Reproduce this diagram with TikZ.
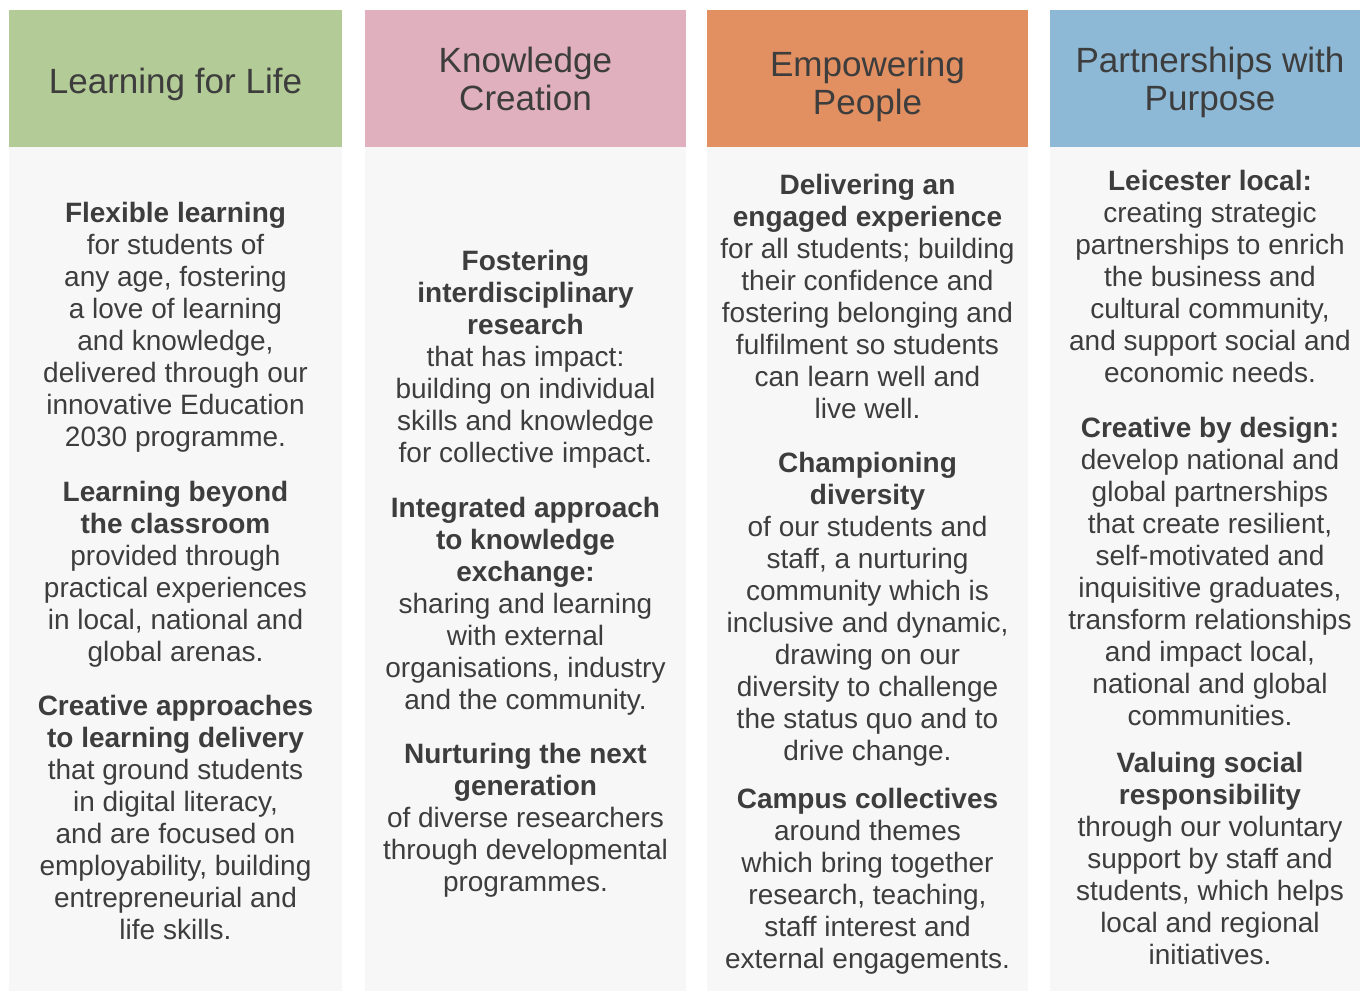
\documentclass[tikz,border=0pt]{standalone}
\usepackage{fontspec}
\setmainfont{Liberation Sans}
\definecolor{cgreen}{HTML}{B3CB96}
\definecolor{cpink}{HTML}{E0B0BE}
\definecolor{corange}{HTML}{E29062}
\definecolor{cblue}{HTML}{8DB9D6}
\definecolor{cbody}{HTML}{F7F7F7}
\definecolor{ctext}{HTML}{3D3D3D}
\tikzset{
  headtext/.style={text=ctext, align=center, anchor=north, inner sep=0pt,
    font=\fontsize{26.3pt}{28.5pt}\selectfont, execute at begin node=\strut},
  para/.style={text=ctext, align=center, anchor=north, inner sep=0pt,
    font=\fontsize{21pt}{24pt}\selectfont, execute at begin node=\strut},
}
\begin{document}
\begin{tikzpicture}[x=0.75pt,y=-0.75pt]
\useasboundingbox[fill=white] (0,0) rectangle (1360,991);
% column boxes
\fill[cgreen]  (9,10) rectangle (342,147);
\fill[cbody]   (9,147) rectangle (342,991);
\fill[cpink]   (365,10) rectangle (686,147);
\fill[cbody]   (365,147) rectangle (686,991);
\fill[corange] (707,10) rectangle (1028,147);
\fill[cbody]   (707,147) rectangle (1028,991);
\fill[cblue]   (1050,10) rectangle (1360,147);
\fill[cbody]   (1050,147) rectangle (1360,991);
% headers
\node[headtext] (h1) at (175.5,66.6) {Learning for Life};
\node[headtext] (h2) at (525.5,46.4) {Knowledge\\Creation};
\node[headtext] (h3) at (867.5,50.4) {Empowering\\People};
\node[headtext] (h4) at (1210,46.4) {Partnerships with\\Purpose};
% column 1
\node[para] (a1) at (175.5,201.6) {\textbf{Flexible learning}\\for students of\\any age, fostering\\a love of learning\\and knowledge,\\delivered through our\\innovative Education\\2030 programme.};
\node[para] (a2) at (175.5,480.6) {\textbf{Learning beyond}\\\textbf{the classroom}\\provided through\\practical experiences\\in local, national and\\global arenas.};
\node[para] (a3) at (175.5,694.6) {\textbf{Creative approaches}\\\textbf{to learning delivery}\\that ground students\\in digital literacy,\\and are focused on\\employability, building\\entrepreneurial and\\life skills.};
% column 2
\node[para] (b1) at (525.5,249.6) {\textbf{Fostering}\\\textbf{interdisciplinary}\\\textbf{research}\\that has impact:\\building on individual\\skills and knowledge\\for collective impact.};
\node[para] (b2) at (525.5,496.6) {\textbf{Integrated approach}\\\textbf{to knowledge}\\\textbf{exchange:}\\sharing and learning\\with external\\organisations, industry\\and the community.};
\node[para] (b3) at (525.5,742.6) {\textbf{Nurturing the next}\\\textbf{generation}\\of diverse researchers\\through developmental\\programmes.};
% column 3
\node[para] (c1) at (867.5,173.6) {\textbf{Delivering an}\\\textbf{engaged experience}\\for all students; building\\their confidence and\\fostering belonging and\\fulfilment so students\\can learn well and\\live well.};
\node[para] (c2) at (867.5,451.6) {\textbf{Championing}\\\textbf{diversity}\\of our students and\\staff, a nurturing\\community which is\\inclusive and dynamic,\\drawing on our\\diversity to challenge\\the status quo and to\\drive change.};
\node[para] (c3) at (867.5,787.6) {\textbf{Campus collectives}\\around themes\\which bring together\\research, teaching,\\staff interest and\\external engagements.};
% column 4
\node[para] (d1) at (1210,169.6) {\textbf{Leicester local:}\\creating strategic\\partnerships to enrich\\the business and\\cultural community,\\and support social and\\economic needs.};
\node[para] (d2) at (1210,416.6) {\textbf{Creative by design:}\\develop national and\\global partnerships\\that create resilient,\\self-motivated and\\inquisitive graduates,\\transform relationships\\and impact local,\\national and global\\communities.};
\node[para] (d3) at (1210,751.6) {\textbf{Valuing social}\\\textbf{responsibility}\\through our voluntary\\support by staff and\\students, which helps\\local and regional\\initiatives.};
\end{tikzpicture}
\end{document}
